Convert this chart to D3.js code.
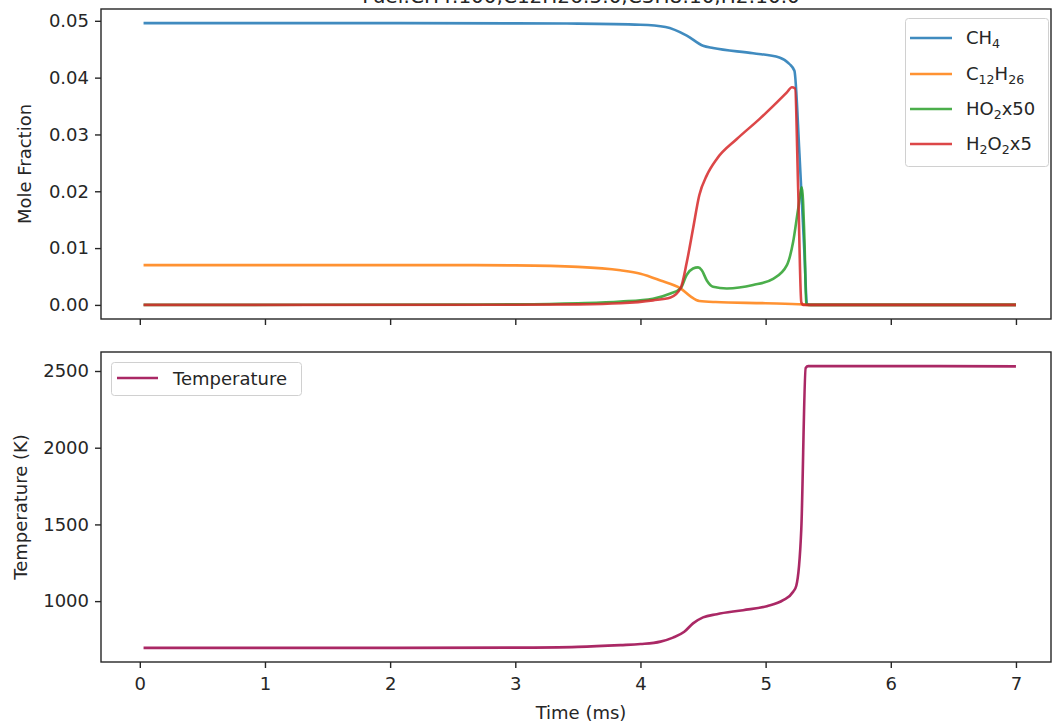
<!DOCTYPE html>
<html>
<head>
<meta charset="utf-8">
<script src="https://cdn.jsdelivr.net/npm/d3@7"></script>
<style>
  body { margin: 0; background: #fff; }
  svg { display: block; }
  text { font-family: "DejaVu Sans", sans-serif; fill: #262626; }
</style>
</head>
<body>
<svg id="chart" width="1052" height="723"></svg>
<script>
// ---- data -------------------------------------------------------------
const titleText = "Fuel:CH4:100,C12H26:5.0,C3H8:10,H2:10.0";
const timeTicks = [0, 1, 2, 3, 4, 5, 6, 7];
const moleTicks = [0, 0.01, 0.02, 0.03, 0.04, 0.05];
const tempTicks = [1000, 1500, 2000, 2500];

// [time (ms), mole fraction]
const ch4 = [[0.03,0.0496],[2.0,0.0496],[3.0,0.04955],[3.5,0.0495],[4.0,0.0493],[4.2,0.0489],
  [4.37,0.0474],[4.50,0.0456],[4.58,0.0452],[4.9,0.0443],[5.11,0.04355],[5.19,0.0424],
  [5.23,0.0412],[5.27,0.0267],[5.31,0.0091],[5.33,0.0002],[5.36,0],[7.0,0]];
const c12h26 = [[0.03,0.0070],[2.5,0.0070],[3.0,0.00695],[3.5,0.0067],[3.84,0.0061],[4.0,0.0055],
  [4.16,0.0043],[4.32,0.0029],[4.40,0.0015],[4.47,0.0007],[4.6,0.0005],[5.0,0.0003],
  [5.3,0.0001],[5.34,0],[7.0,0]];
const ho2x50 = [[0.03,0],[2.5,0.00005],[3.0,0.0001],[3.5,0.0003],[3.84,0.0006],[4.1,0.0011],
  [4.24,0.002],[4.32,0.0029],[4.37,0.0053],[4.42,0.0064],[4.46,0.0066],[4.49,0.0061],
  [4.53,0.0043],[4.58,0.0032],[4.69,0.0029],[4.9,0.0035],[5.06,0.0046],[5.17,0.0070],
  [5.22,0.0111],[5.26,0.0169],[5.29,0.0207],[5.31,0.0116],[5.325,0.0002],[5.34,0],[7.0,0]];
const h2o2x5 = [[0.03,0],[3.0,0.00003],[3.5,0.0001],[3.84,0.0003],[4.1,0.0008],[4.24,0.0013],
  [4.32,0.0029],[4.37,0.0075],[4.42,0.0134],[4.47,0.0193],[4.53,0.0228],[4.61,0.0257],
  [4.77,0.0292],[4.95,0.0327],[5.17,0.0374],[5.21,0.0383],[5.235,0.0381],[5.26,0.0204],
  [5.285,0.0005],[5.30,0],[7.0,0]];
// [time (ms), temperature (K)]
const temperature = [[0.03,695],[1.0,695],[2.0,695],[3.0,697],[3.5,702],[3.84,713],[4.0,720],
  [4.16,736],[4.26,762],[4.35,800],[4.42,855],[4.50,894],[4.61,915],[4.82,941],[5.01,967],
  [5.14,1006],[5.22,1061],[5.245,1100],[5.285,1470],[5.32,2520],[5.34,2532],[6.0,2532],[7.0,2530]];

const speciesNames = ["CH_4", "C_{12}H_{26}", "HO_2x50", "H_2O_2x5"];
const speciesData = [ch4, c12h26, ho2x50, h2o2x5];
const speciesColors = ["#1f77b4", "#ff7f0e", "#2ca02c", "#d62728"];
const tempName = "Temperature";
const tempColor = "#a51c5d";

// ---- layout -----------------------------------------------------------
const svg = d3.select("#chart");
const left = 101, right = 1051;
const top1 = 9, bot1 = 319, top2 = 352, bot2 = 662;
const fs = 18;

const x = d3.scaleLinear().domain([-0.31, 7.28]).range([left, right]);

function padded(ext) {
  const m = (ext[1] - ext[0]) * 0.05;
  return [ext[0] - m, ext[1] + m];
}
const moleExt = d3.extent(speciesData.flat(), d => d[1]);
const y1 = d3.scaleLinear().domain(padded(moleExt)).range([bot1, top1]);
const y2 = d3.scaleLinear().domain(padded(d3.extent(temperature, d => d[1]))).range([bot2, top2]);

// writes "A_2" / "A_{12}" style labels as text with subscript tspans
function richText(sel, label) {
  const parts = [];
  const re = /_(\{[^}]*\}|.)/g;
  let last = 0, m;
  while ((m = re.exec(label)) !== null) {
    if (m.index > last) parts.push({ t: label.slice(last, m.index), sub: false });
    parts.push({ t: m[1].replace(/[{}]/g, ""), sub: true });
    last = re.lastIndex;
  }
  if (last < label.length) parts.push({ t: label.slice(last), sub: false });
  let shifted = false;
  parts.forEach(p => {
    const ts = sel.append("tspan").text(p.t);
    if (p.sub) {
      ts.attr("font-size", fs * 0.7).attr("dy", shifted ? 0 : fs * 0.22);
      shifted = true;
    } else {
      ts.attr("dy", shifted ? -fs * 0.22 : 0);
      shifted = false;
    }
  });
}

// title (sits at the top edge of the figure)
svg.append("text").attr("x", 581).attr("y", 3).attr("text-anchor", "middle")
  .attr("font-size", 20).text(titleText);

function styleAxis(g) {
  g.select(".domain").remove();
  g.selectAll(".tick line").attr("stroke", "#262626").attr("stroke-width", 1.4);
  g.selectAll(".tick text").attr("font-size", fs).attr("fill", "#262626")
    .attr("font-family", '"DejaVu Sans", sans-serif');
}

const line1 = d3.line().x(d => x(d[0])).y(d => y1(d[1])).curve(d3.curveMonotoneX);
const line2 = d3.line().x(d => x(d[0])).y(d => y2(d[1])).curve(d3.curveMonotoneX);

// ---- top panel: mole fractions ----------------------------------------
svg.append("clipPath").attr("id", "c1").append("rect")
  .attr("x", left).attr("y", top1).attr("width", right - left).attr("height", bot1 - top1);

svg.append("g").attr("clip-path", "url(#c1)").selectAll("path")
  .data(speciesData).join("path")
  .attr("d", line1).attr("fill", "none")
  .attr("stroke", (d, i) => speciesColors[i]).attr("stroke-opacity", 0.85)
  .attr("stroke-width", 2.6).attr("stroke-linejoin", "round");

svg.append("g").attr("transform", `translate(0,${bot1})`)
  .call(d3.axisBottom(x).tickValues(timeTicks).tickSize(6).tickFormat(""))
  .call(styleAxis);
svg.append("g").attr("transform", `translate(${left},0)`)
  .call(d3.axisLeft(y1).tickValues(moleTicks).tickSize(6).tickPadding(6).tickFormat(d3.format(".2f")))
  .call(styleAxis);
svg.append("rect").attr("x", left).attr("y", top1).attr("width", right - left).attr("height", bot1 - top1)
  .attr("fill", "none").attr("stroke", "#262626").attr("stroke-width", 1.4);

svg.append("text").attr("transform", `translate(25,${(top1 + bot1) / 2}) rotate(-90)`)
  .attr("text-anchor", "middle").attr("dy", "0.35em").attr("font-size", fs).text("Mole Fraction");

// legend
const lg1 = svg.append("g");
lg1.append("rect").attr("x", 905.5).attr("y", 18.5).attr("width", 143).attr("height", 148)
  .attr("rx", 3).attr("fill", "#fff").attr("fill-opacity", 0.8).attr("stroke", "#d0d0d0");
const rowY = [38, 74, 109, 144];
speciesNames.forEach((name, i) => {
  lg1.append("line").attr("x1", 910).attr("x2", 952).attr("y1", rowY[i]).attr("y2", rowY[i])
    .attr("stroke", speciesColors[i]).attr("stroke-opacity", 0.85).attr("stroke-width", 2.6);
  const t = lg1.append("text").attr("x", 966).attr("y", rowY[i] + 6).attr("font-size", fs);
  richText(t, name);
});

// ---- bottom panel: temperature ----------------------------------------
svg.append("clipPath").attr("id", "c2").append("rect")
  .attr("x", left).attr("y", top2).attr("width", right - left).attr("height", bot2 - top2);
svg.append("path").datum(temperature).attr("clip-path", "url(#c2)")
  .attr("d", line2).attr("fill", "none").attr("stroke", tempColor).attr("stroke-opacity", 0.95)
  .attr("stroke-width", 2.6).attr("stroke-linejoin", "round");

svg.append("g").attr("transform", `translate(0,${bot2})`)
  .call(d3.axisBottom(x).tickValues(timeTicks).tickSize(6).tickPadding(9).tickFormat(d3.format("d")))
  .call(styleAxis);
svg.append("g").attr("transform", `translate(${left},0)`)
  .call(d3.axisLeft(y2).tickValues(tempTicks).tickSize(6).tickPadding(6).tickFormat(d3.format("d")))
  .call(styleAxis);
svg.append("rect").attr("x", left).attr("y", top2).attr("width", right - left).attr("height", bot2 - top2)
  .attr("fill", "none").attr("stroke", "#262626").attr("stroke-width", 1.4);

svg.append("text").attr("transform", `translate(21,${(top2 + bot2) / 2}) rotate(-90)`)
  .attr("text-anchor", "middle").attr("dy", "0.35em").attr("font-size", fs).text("Temperature (K)");
svg.append("text").attr("x", (left + right) / 2 + 5).attr("y", 719).attr("text-anchor", "middle")
  .attr("font-size", fs).text("Time (ms)");

const lg2 = svg.append("g");
lg2.append("rect").attr("x", 111.5).attr("y", 362.5).attr("width", 190).attr("height", 33)
  .attr("rx", 3).attr("fill", "#fff").attr("fill-opacity", 0.8).attr("stroke", "#d0d0d0");
lg2.append("line").attr("x1", 117).attr("x2", 158).attr("y1", 378).attr("y2", 378)
  .attr("stroke", tempColor).attr("stroke-opacity", 0.95).attr("stroke-width", 2.6);
lg2.append("text").attr("x", 173).attr("y", 384.5).attr("font-size", fs).text(tempName);
</script>
</body>
</html>
